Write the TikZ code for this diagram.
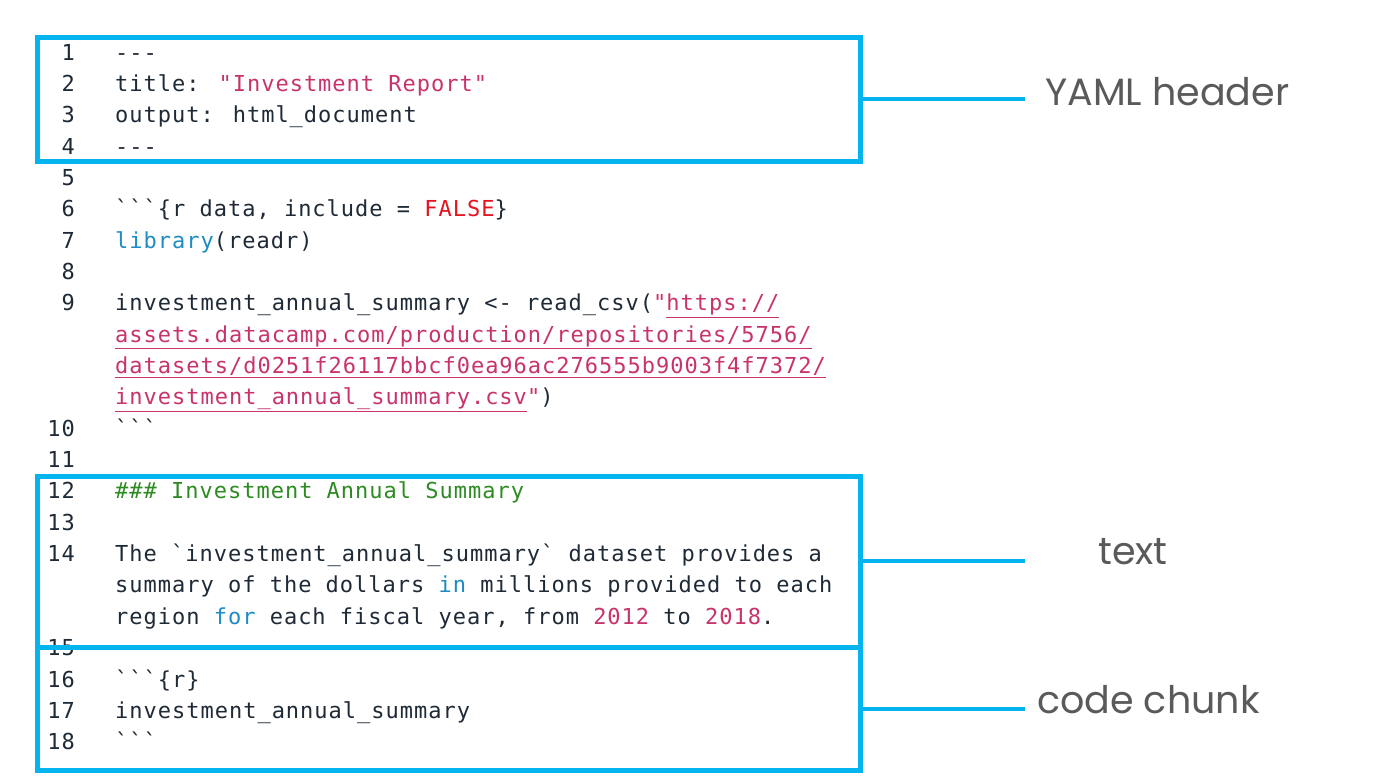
\documentclass[tikz,border=0pt]{standalone}
\usepackage{fontspec}
\newfontfamily\codefont[LetterSpace=4.5]{DejaVu Sans Mono}
\newfontfamily\labfont{Poppins}
\definecolor{ink}{HTML}{1F2A37}
\definecolor{pinkc}{HTML}{C8336E}
\definecolor{redc}{HTML}{E5131F}
\definecolor{bluec}{HTML}{1E8CC4}
\definecolor{greenc}{HTML}{2E8B22}
\definecolor{cyanb}{HTML}{03B4EF}
\definecolor{labc}{HTML}{5A5A5A}
\tikzset{
  num/.style={anchor=base east,inner sep=0pt,text=ink,font=\codefont\fontsize{22}{22}\selectfont},
  code/.style={anchor=base west,inner sep=0pt,text=ink,font=\codefont\fontsize{22}{22}\selectfont},
  box/.style={draw=cyanb,line width=5pt},
  conn/.style={draw=cyanb,line width=3.5pt},
  lab/.style={text=labc,font=\labfont\fontsize{38}{38}\selectfont,inner sep=0pt}
}
\newcommand{\rowy}[1]{-(52+(#1-1)*31.35+8)}
\begin{document}
\begin{tikzpicture}[x=1pt,y=1pt]
\useasboundingbox (0,0) rectangle (1384,-784);
\fill[white] (0,0) rectangle (1384,-784);
% line numbers
\foreach \n/\r in {1/1,2/2,3/3,4/4,5/5,6/6,7/7,8/8,9/9,10/13,11/14,12/15,13/16,14/17,15/20,16/21,17/22,18/23}
  \node[num] (n\n) at (75,{\rowy{\r}}) {\n};
% code
\node[code] (c1) at (115,{\rowy{1}}) {-{}-{}-};
\node[code] (c2) at (115,{\rowy{2}}) {title: \textcolor{pinkc}{"Investment Report"}};
\node[code] (c3) at (115,{\rowy{3}}) {output: html\_document};
\node[code] (c4) at (115,{\rowy{4}}) {-{}-{}-};
\node[code] (c6) at (115,{\rowy{6}}) {`{}`{}`\{r data, include = \textcolor{redc}{FALSE}\}};
\node[code] (c7) at (115,{\rowy{7}}) {\textcolor{bluec}{library}(readr)};
\node[code] (c9) at (115,{\rowy{9}}) {investment\_annual\_summary <- read\_csv(\textcolor{pinkc}{"\underline{https://}}};
\node[code] (c9b) at (115,{\rowy{10}}) {\textcolor{pinkc}{\underline{assets.datacamp.com/production/repositories/5756/}}};
\node[code] (c9c) at (115,{\rowy{11}}) {\textcolor{pinkc}{\underline{datasets/d0251f26117bbcf0ea96ac276555b9003f4f7372/}}};
\node[code] (c9d) at (115,{\rowy{12}}) {\textcolor{pinkc}{\underline{investment\_annual\_summary.csv}"})};
\node[code] (c10) at (115,{\rowy{13}}) {`{}`{}`};
\node[code,text=greenc] (c12) at (115,{\rowy{15}}) {\#\#\# Investment Annual Summary};
\node[code] (c14) at (115,{\rowy{17}}) {The `investment\_annual\_summary` dataset provides a};
\node[code] (c14b) at (115,{\rowy{18}}) {summary of the dollars \textcolor{bluec}{in} millions provided to each};
\node[code] (c14c) at (115,{\rowy{19}}) {region \textcolor{bluec}{for} each fiscal year, from \textcolor{pinkc}{2012} to \textcolor{pinkc}{2018}.};
\node[code] (c16) at (115,{\rowy{21}}) {`{}`{}`\{r\}};
\node[code] (c17) at (115,{\rowy{22}}) {investment\_annual\_summary};
\node[code] (c18) at (115,{\rowy{23}}) {`{}`{}`};
% boxes
\draw[box] (37,-38) rectangle (860,-161);
\draw[box] (37,-476) rectangle (860,-647);
\draw[box] (37,-647) rectangle (860,-770);
\coordinate (b1) at (860,-99);
\coordinate (b2) at (860,-561);
\coordinate (b3) at (860,-709);
\node[lab,anchor=west] (l1) at (1045,-92) {YAML header};
\node[lab] (l2) at (1133,-552) {text};
\node[lab,anchor=west] (l3) at (1037,-700) {code chunk};
\draw[conn] (b1) -- (1025,-99);
\draw[conn] (b2) -- (1025,-561);
\draw[conn] (b3) -- (1025,-709);
\end{tikzpicture}
\end{document}
